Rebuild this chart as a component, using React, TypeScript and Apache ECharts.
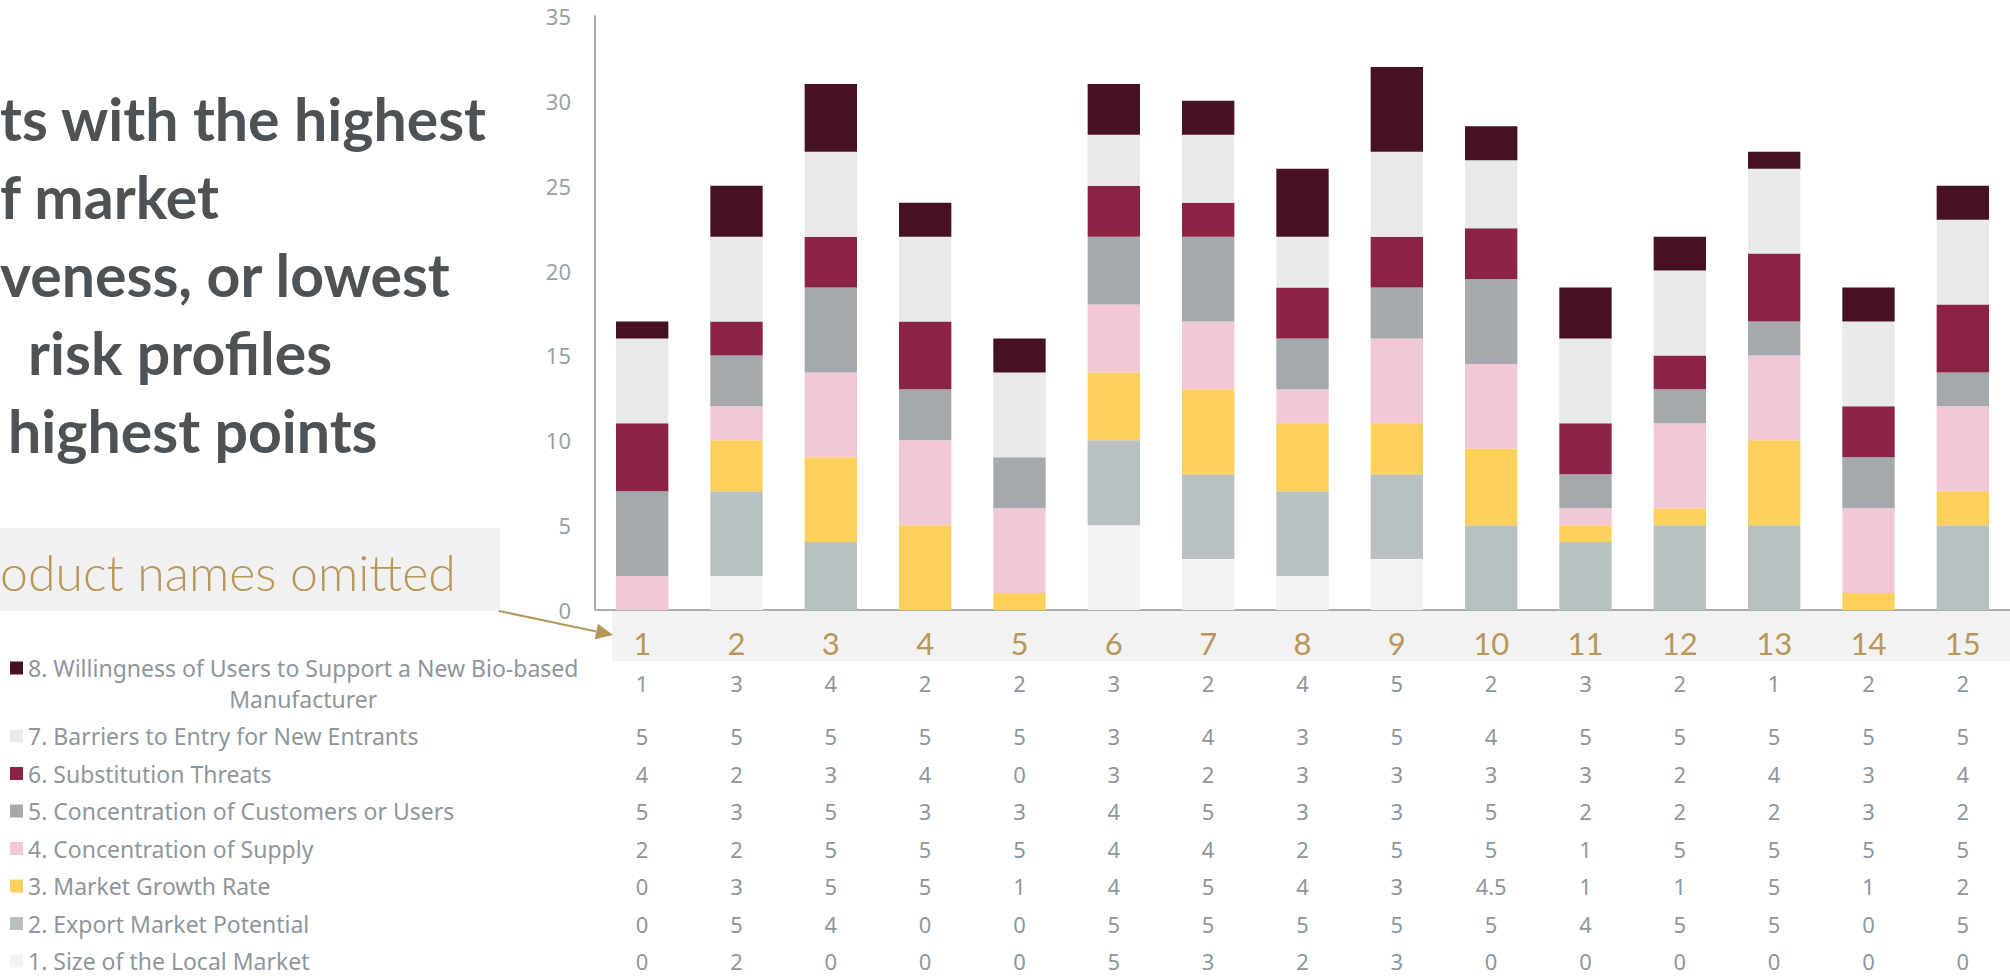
import React, { useEffect, useRef } from "react";
import * as echarts from "echarts";

const categories = ["1", "2", "3", "4", "5", "6", "7", "8", "9", "10", "11", "12", "13", "14", "15"];

const seriesNames = [
  "1. Size of the Local Market",
  "2. Export Market Potential",
  "3. Market Growth Rate",
  "4. Concentration of Supply",
  "5. Concentration of Customers or Users",
  "6. Substitution Threats",
  "7. Barriers to Entry for New Entrants",
  "8. Willingness of Users to Support a New Bio-based Manufacturer",
];
const label8Line1 = "8. Willingness of Users to Support a New Bio-based";
const label8Line2 = "Manufacturer";

const sizeLocalMarket = [0, 2, 0, 0, 0, 5, 3, 2, 3, 0, 0, 0, 0, 0, 0];
const exportPotential = [0, 5, 4, 0, 0, 5, 5, 5, 5, 5, 4, 5, 5, 0, 5];
const growthRate = [0, 3, 5, 5, 1, 4, 5, 4, 3, 4.5, 1, 1, 5, 1, 2];
const supplyConcentration = [2, 2, 5, 5, 5, 4, 4, 2, 5, 5, 1, 5, 5, 5, 5];
const customerConcentration = [5, 3, 5, 3, 3, 4, 5, 3, 3, 5, 2, 2, 2, 3, 2];
const substitutionThreats = [4, 2, 3, 4, 0, 3, 2, 3, 3, 3, 3, 2, 4, 3, 4];
const entryBarriers = [5, 5, 5, 5, 5, 3, 4, 3, 5, 4, 5, 5, 5, 5, 5];
const userWillingness = [1, 3, 4, 2, 2, 3, 2, 4, 5, 2, 3, 2, 1, 2, 2];

const seriesValues = [
  sizeLocalMarket,
  exportPotential,
  growthRate,
  supplyConcentration,
  customerConcentration,
  substitutionThreats,
  entryBarriers,
  userWillingness,
];

const colors = ["#f2f2f2", "#b9c0c1", "#fdd05b", "#f2c8d6", "#a3a9ac", "#8b2346", "#e8e9eb", "#461222"];

const yTicks = { min: 0, max: 35, interval: 5 };

const titleLines = ["ts with the highest", "f market", "veness, or lowest", "risk profiles", "highest points"];
const boxText = "oduct names omitted";

const GOLD = "#b8975a";
const TEXT_GRAY = "#8f969b";
const AXIS_GRAY = "#a9aeb1";
const FONT = "'Noto Sans', sans-serif";

export default function App() {
  const ref = useRef<HTMLDivElement>(null);

  useEffect(() => {
    if (!ref.current) return;
    const chart = echarts.init(ref.current, undefined, { renderer: "svg" });

    const gridBottomY = 610;
    // table rows: top row = series 8 ... bottom row = series 1
    const rowCenters = [683, 736, 773.5, 811, 848.5, 886, 923.5, 961];

    const tableAxes = rowCenters.map((cy, r) => {
      const sIdx = 7 - r;
      const vals = seriesValues[sIdx];
      return {
        type: "category",
        gridIndex: 0,
        position: "bottom",
        offset: cy - gridBottomY,
        data: categories,
        axisLine: { show: false },
        axisTick: { show: false },
        splitLine: { show: false },
        axisLabel: {
          interval: 0,
          margin: 0,
          verticalAlign: "middle",
          lineHeight: 20,
          color: TEXT_GRAY,
          fontSize: 22,
          fontFamily: FONT,
          formatter: (_v: string, idx: number) => String(vals[idx]),
        },
      };
    });

    const titleX = [0, 0, 0, 28, 8];
    const titleGraphics = titleLines.map((t, i) => ({
      type: "text",
      x: titleX[i],
      y: 118 + i * 78,
      style: {
        text: t,
        fill: "#4d5257",
        font: "bold 59px Lato, sans-serif",
        verticalAlign: "middle",
      },
    }));

    // arrow geometry
    const sx = 499, sy = 611, tx = 613, ty = 635;
    const len = Math.hypot(tx - sx, ty - sy);
    const dx = (tx - sx) / len, dy = (ty - sy) / len;
    const headL = 17, headW = 8;
    const bx = tx - dx * headL, by = ty - dy * headL;

    const option: any = {
      animation: false,
      backgroundColor: "#ffffff",
      grid: { left: 595, top: 16, width: 1422, height: gridBottomY - 16, containLabel: false },
      legend: {
        orient: "vertical",
        left: 10,
        top: 625.5,
        padding: 0,
        itemWidth: 13,
        itemHeight: 13,
        itemGap: 13.5,
        icon: "rect",
        selectedMode: false,
        data: seriesNames.slice().reverse(),
        textStyle: {
          color: TEXT_GRAY,
          fontSize: 23,
          fontFamily: FONT,
          lineHeight: 24,
          rich: {
            a: { color: TEXT_GRAY, fontSize: 23, fontFamily: FONT, lineHeight: 54, verticalAlign: "bottom" },
            b: { color: TEXT_GRAY, fontSize: 23, fontFamily: FONT, lineHeight: 31, align: "center", verticalAlign: "bottom" },
          },
        },
        formatter: (name: string) =>
          name === seriesNames[7] ? `{a|${label8Line1}}\n{b|${label8Line2}}` : name,
      },
      xAxis: [
        {
          type: "category",
          gridIndex: 0,
          position: "bottom",
          data: categories,
          axisLine: { show: true, onZero: false, lineStyle: { color: AXIS_GRAY, width: 2 } },
          axisTick: { show: false },
          splitLine: { show: false },
          axisLabel: {
            interval: 0,
            margin: 33,
            verticalAlign: "middle",
            color: GOLD,
            fontSize: 31,
            fontFamily: "Lato, sans-serif",
          },
        },
        ...tableAxes,
      ],
      yAxis: {
        type: "value",
        min: yTicks.min,
        max: yTicks.max,
        interval: yTicks.interval,
        axisLine: { show: true, lineStyle: { color: AXIS_GRAY, width: 2 } },
        axisTick: { show: false },
        splitLine: { show: false },
        axisLabel: { color: "#9a9fa3", fontSize: 22, fontFamily: FONT, margin: 24 },
      },
      series: seriesNames.map((name, i) => ({
        name,
        type: "bar",
        stack: "total",
        xAxisIndex: 0,
        barWidth: "55.5%",
        itemStyle: { color: colors[i] },
        data: seriesValues[i],
      })),
      graphic: [
        {
          type: "rect",
          z: -1,
          shape: { x: 612, y: 611, width: 1398, height: 50 },
          style: { fill: "#f2f2f2" },
        },
        {
          type: "rect",
          z: -1,
          shape: { x: 0, y: 528, width: 500, height: 83 },
          style: { fill: "#f1f1f1" },
        },
        {
          type: "text",
          x: 0,
          y: 572,
          style: {
            text: boxText,
            fill: GOLD,
            font: "300 50px Lato, sans-serif",
            verticalAlign: "middle",
          },
        },
        {
          type: "line",
          shape: { x1: sx, y1: sy, x2: bx, y2: by },
          style: { stroke: GOLD, lineWidth: 2 },
        },
        {
          type: "polygon",
          shape: {
            points: [
              [tx, ty],
              [bx - dy * headW, by + dx * headW],
              [bx + dy * headW, by - dx * headW],
            ],
          },
          style: { fill: GOLD },
        },
        ...titleGraphics,
      ],
    };

    chart.setOption(option);
    return () => chart.dispose();
  }, []);

  return (
    <div
      ref={ref}
      style={{ position: "absolute", left: 0, top: 0, width: 2010, height: 978, background: "#fff" }}
    />
  );
}
